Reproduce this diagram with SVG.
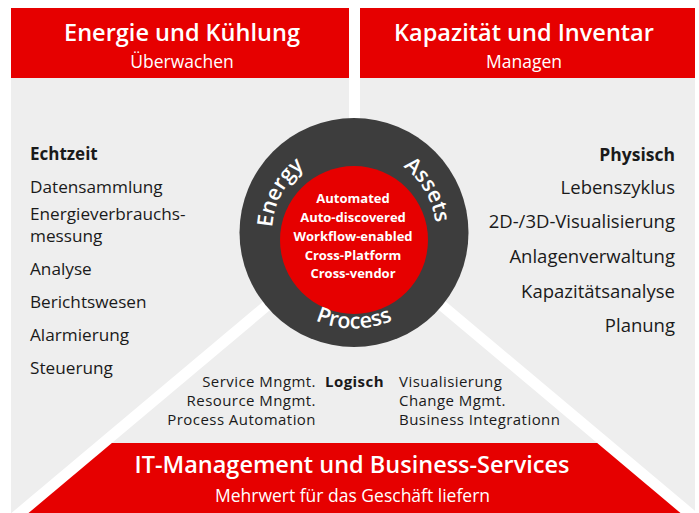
<svg xmlns="http://www.w3.org/2000/svg" width="699" height="513" viewBox="0 0 699 513">
<style>
text{font-family:"Open Sans","Noto Sans",sans-serif}
.hd{font-size:23.5px;font-weight:600;fill:#fff;text-anchor:middle}
.sub{font-size:17.5px;fill:#fff;text-anchor:middle}
.li{font-size:17.2px;fill:#1a1a1a}
.lb{font-size:17px;font-weight:700;fill:#1a1a1a}
.ri{font-size:18.5px;fill:#1a1a1a}
.ring{font-size:21.5px;font-weight:600;fill:#fff}
.core{font-size:13px;font-weight:700;fill:#fff;text-anchor:middle}
.sm{font-size:15px;letter-spacing:0.45px;fill:#1a1a1a}
.red{fill:#e60000}
.stripe{stroke:#fff;stroke-width:11;fill:none}
</style>
<defs>
<path id="pE" d="M282.99,273.5 A82,82 0 0 1 354,150.5"/>
<path id="pA" d="M354,150.5 A82,82 0 0 1 425.01,273.5"/>
<path id="pP" d="M270.86,280.5 A96,96 0 0 0 437.14,280.5"/>
</defs>
<rect x="11" y="78" width="684" height="435" fill="#eeeeee"/>
<g id="bottom-banner">
<polygon class="red" points="103.3,443 605.7,443 689,513 20,513"/>
<text class="hd" x="352" y="473">IT-Management und Business-Services</text>
<text class="sub" x="352.5" y="502">Mehrwert für das Geschäft liefern</text>
</g>
<g id="connectors">
<line class="stripe" x1="354.5" y1="232" x2="354.5" y2="0"/>
<line class="stripe" x1="354.5" y1="232" x2="-45.5" y2="568"/>
<line class="stripe" x1="354.5" y1="232" x2="754.5" y2="568"/>
</g>
<g id="header-left">
<rect class="red" x="11" y="8" width="338" height="70"/>
<text class="hd" x="182" y="41">Energie und Kühlung</text>
<text class="sub" x="182" y="68">Überwachen</text>
</g>
<g id="header-right">
<rect class="red" x="360" y="8" width="335" height="70"/>
<text class="hd" x="524" y="41">Kapazität und Inventar</text>
<text class="sub" x="524" y="68">Managen</text>
</g>
<g id="list-left">
<text class="lb" x="30" y="160">Echtzeit</text>
<text class="li" x="30" y="193">Datensammlung</text>
<text class="li" x="30" y="220">Energieverbrauchs-</text>
<text class="li" x="30" y="242">messung</text>
<text class="li" x="30" y="275">Analyse</text>
<text class="li" x="30" y="308">Berichtswesen</text>
<text class="li" x="30" y="341">Alarmierung</text>
<text class="li" x="30" y="374">Steuerung</text>
</g>
<g id="list-right" text-anchor="end">
<text class="lb" x="675" y="161" style="font-size:17.5px">Physisch</text>
<text class="ri" x="675" y="194">Lebenszyklus</text>
<text class="ri" x="675" y="228">2D-/3D-Visualisierung</text>
<text class="ri" x="675" y="263">Anlagenverwaltung</text>
<text class="ri" x="675" y="298">Kapazitätsanalyse</text>
<text class="ri" x="675" y="332">Planung</text>
</g>
<g id="list-bottom">
<g text-anchor="end">
<text class="sm" x="316" y="387">Service Mngmt.</text>
<text class="sm" x="316" y="406">Resource Mngmt.</text>
<text class="sm" x="316" y="425">Process Automation</text>
</g>
<text class="sm" x="325" y="387" font-weight="700">Logisch</text>
<text class="sm" x="399" y="387">Visualisierung</text>
<text class="sm" x="399" y="406">Change Mgmt.</text>
<text class="sm" x="399" y="425">Business Integrationn</text>
</g>
<g id="center-circle">
<circle cx="354" cy="232.5" r="114.5" fill="#3d3d3d"/>
<circle class="red" cx="354" cy="240" r="74"/>
<text class="ring"><textPath href="#pE" startOffset="48.5%" text-anchor="middle">Energy</textPath></text>
<text class="ring"><textPath href="#pA" startOffset="50%" text-anchor="middle">Assets</textPath></text>
<text class="ring"><textPath href="#pP" startOffset="50%" text-anchor="middle">Process</textPath></text>
<text class="core" x="353" y="203">Automated</text>
<text class="core" x="353" y="222">Auto-discovered</text>
<text class="core" x="353" y="241">Workflow-enabled</text>
<text class="core" x="353" y="260">Cross-Platform</text>
<text class="core" x="353" y="278">Cross-vendor</text>
</g>
</svg>
